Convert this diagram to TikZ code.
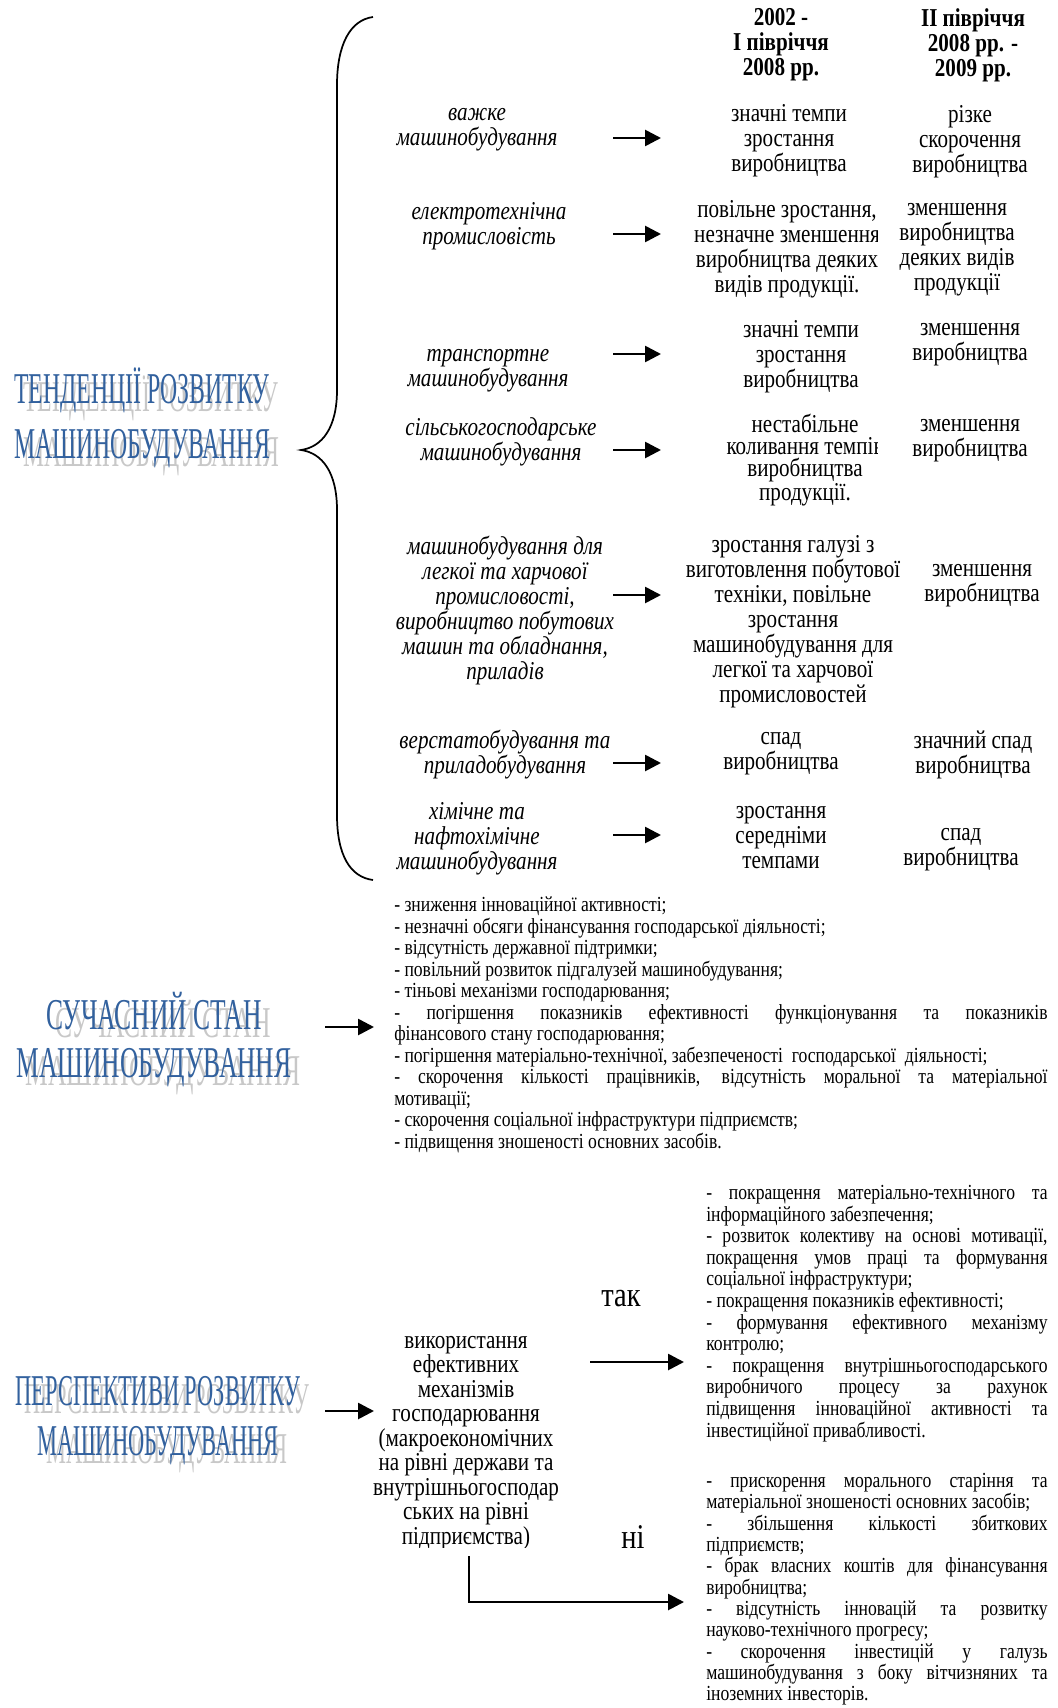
\documentclass[tikz,border=0pt]{standalone}
\usepackage{fontspec}
\setmainfont{Liberation Serif}[FakeStretch=0.82]
\newfontfamily\tendfont{Liberation Serif}[FakeStretch=0.54]
\newfontfamily\stanfont{Liberation Serif}[FakeStretch=0.58]
\newfontfamily\perspfont{Liberation Serif}[FakeStretch=0.51]
\usetikzlibrary{arrows.meta,positioning}
\definecolor{wordblue}{RGB}{50,97,158}
\definecolor{wordgray}{RGB}{200,200,200}

\begin{document}
\begin{tikzpicture}[x=0.75pt, y=-0.75pt,
  cell/.style={font=\fontsize{19.3}{18.75}\selectfont, align=center, inner sep=0pt},
  branch/.style={font=\fontsize{19.3}{18.75}\selectfont\itshape, align=center, inner sep=0pt},
  bullets/.style={font=\fontsize{16.1}{16.1}\selectfont, align=justify, inner sep=0pt, anchor=north west},
  wordart/.style={text=wordblue, align=center, inner sep=0pt},
  wordback/.style={text=wordgray, align=center, inner sep=0pt},
  arr/.style={line width=2pt, -{Triangle[length=12pt,width=12pt]}}]
\useasboundingbox (0,0) rectangle (1057,1708);
% brace
\draw[line width=1.3pt] (373,17) .. controls (350,20) and (337,45) .. (337,85)
  -- (337,390) .. controls (337,428) and (322,447) .. (301,450)
  .. controls (322,453) and (337,472) .. (337,510)
  -- (337,815) .. controls (337,855) and (350,877) .. (373,880);
% headings with shadows
\node[wordback, font=\fontsize{33}{41}\tendfont] (tendB) at (151,426) {ТЕНДЕНЦІЇ РОЗВИТКУ\\МАШИНОБУДУВАННЯ};
\node[wordart, font=\fontsize{33}{41}\tendfont] (tend) at (142,418) {ТЕНДЕНЦІЇ РОЗВИТКУ\\МАШИНОБУДУВАННЯ};
\node[wordback, font=\fontsize{33}{36}\stanfont] (stanB) at (163,1048) {СУЧАСНИЙ СТАН\\МАШИНОБУДУВАННЯ};
\node[wordart, font=\fontsize{33}{36}\stanfont] (stan) at (154,1040) {СУЧАСНИЙ СТАН\\МАШИНОБУДУВАННЯ};
\node[wordback, font=\fontsize{33}{37.5}\perspfont] (perspB) at (167,1429) {ПЕРСПЕКТИВИ РОЗВИТКУ\\МАШИНОБУДУВАННЯ};
\node[wordart, font=\fontsize{33}{37.5}\perspfont] (persp) at (158,1421) {ПЕРСПЕКТИВИ РОЗВИТКУ\\МАШИНОБУДУВАННЯ};
% column heads
\node[cell, font=\fontsize{19.3}{18.75}\selectfont\bfseries] (head1) at (781,45) {2002 -\\І півріччя\\2008 рр.};
\node[cell, font=\fontsize{19.3}{18.75}\selectfont\bfseries] (head2) at (973,45) {ІІ півріччя\\2008 рр. -\\2009 рр.};
% row 1
\node[branch] (b1) at (477,130) {важке\\машинобудування};
\node[cell] (p1) at (789,141) {значні темпи\\зростання\\виробництва};
\node[cell] (q1) at (970,142) {різке\\скорочення\\виробництва};
% row 2
\node[branch] (b2) at (489,226) {електротехнічна\\промисловість};
\begin{scope}
\clip (680,190) rectangle (877,305);
\node[cell] (p2) at (787,249) {повільне зростання,\\незначне зменшення\\виробництва деяких\\видів продукції.};
\end{scope}
\node[cell] (q2) at (957,250) {зменшення\\виробництва\\деяких видів\\продукції};
% row 3
\node[branch] (b3) at (488,371) {транспортне\\машинобудування};
\node[cell] (p3) at (801,357) {значні темпи\\зростання\\виробництва};
\node[cell] (q3) at (970,345) {зменшення\\виробництва};
% row 4
\node[branch] (b4) at (501,442) {сільськогосподарське\\машинобудування};
\begin{scope}
\clip (680,400) rectangle (877,515);
\node[cell, font=\fontsize{19.3}{16.5}\selectfont] (p4) at (805,460) {нестабільне\\коливання темпів\\виробництва\\продукції.};
\end{scope}
\node[cell] (q4) at (970,441) {зменшення\\виробництва};
% row 5
\node[branch] (b5) at (505,611) {машинобудування для\\легкої та харчової\\промисловості,\\виробництво побутових\\машин та обладнання,\\приладів};
\node[cell] (p5) at (793,622) {зростання галузі з\\виготовлення побутової\\техніки, повільне\\зростання\\машинобудування для\\легкої та харчової\\промисловостей};
\node[cell] (q5) at (982,586) {зменшення\\виробництва};
% row 6
\node[branch] (b6) at (505,755) {верстатобудування та\\приладобудування};
\node[cell] (p6) at (781,754) {спад\\виробництва};
\node[cell] (q6) at (973,755) {значний спад\\виробництва};
% row 7
\node[branch] (b7) at (477,839) {хімічне та\\нафтохімічне\\машинобудування};
\node[cell] (p7) at (781,838) {зростання\\середніми\\темпами};
\node[cell] (q7) at (961,850) {спад\\виробництва};
% row arrows
\coordinate (r1) at (613,138); \coordinate (r1e) at (661,138);
\coordinate (r2) at (613,234); \coordinate (r2e) at (661,234);
\coordinate (r3) at (613,354); \coordinate (r3e) at (661,354);
\coordinate (r4) at (613,450); \coordinate (r4e) at (661,450);
\coordinate (r5) at (613,595); \coordinate (r5e) at (661,595);
\coordinate (r6) at (613,763); \coordinate (r6e) at (661,763);
\coordinate (r7) at (613,835); \coordinate (r7e) at (661,835);
\draw[arr] (r1) -- (r1e);
\draw[arr] (r2) -- (r2e);
\draw[arr] (r3) -- (r3e);
\draw[arr] (r4) -- (r4e);
\draw[arr] (r5) -- (r5e);
\draw[arr] (r6) -- (r6e);
\draw[arr] (r7) -- (r7e);
% present state
\node[bullets, text width=490pt] (state) at (394,897) {- зниження інноваційної активності;\par
- незначні обсяги фінансування господарської діяльності;\par
- відсутність державної підтримки;\par
- повільний розвиток підгалузей машинобудування;\par
- тіньові механізми господарювання;\par
- погіршення показників ефективності функціонування та показників\linebreak фінансового стану господарювання;\par
- погіршення матеріально-технічної, забезпеченості \ господарської \ діяльності;\par
- скорочення кількості працівників, відсутність моральної та матеріальної\linebreak мотивації;\par
- скорочення соціальної інфраструктури підприємств;\par
- підвищення зношеності основних засобів.};
\coordinate (s2) at (325,1027); \coordinate (s2e) at (374,1027);
\draw[arr] (s2) -- (s2e);
% prospects
\coordinate (s3) at (325,1411); \coordinate (s3e) at (374,1411);
\draw[arr] (s3) -- (s3e);
\begin{scope}
\clip (360,1300) rectangle (580,1547);
\node[cell, font=\fontsize{19.3}{18.4}\selectfont] (use) at (466,1443) {використання\\ефективних\\механізмів\\господарювання\\(макроекономічних\\на рівні держави та\\внутрішньогосподар\\ських на рівні\\підприємства)};
\end{scope}
\node[inner sep=0pt, font=\fontsize{26}{26}\selectfont] (yes) at (621,1299) {так};
\node[inner sep=0pt, font=\fontsize{26}{26}\selectfont] (no) at (633,1537) {ні};
\coordinate (y0) at (590,1362); \coordinate (y1) at (684,1362);
\draw[arr] (y0) -- (y1);
\coordinate (n0) at (469,1556); \coordinate (n1) at (684,1602);
\draw[arr] (n0) |- (n1);
\node[bullets, text width=256pt, font=\fontsize{16.1}{16.2}\selectfont] (plus) at (706,1185) {- покращення матеріально-технічного та інформаційного забезпечення;\par
- розвиток колективу на основі мотивації,\linebreak покращення умов праці та формування\linebreak соціальної інфраструктури;\par
- покращення показників ефективності;\par
- формування ефективного механізму\linebreak контролю;\par
- покращення внутрішньогосподарського\linebreak виробничого процесу за рахунок\linebreak підвищення інноваційної активності та\linebreak інвестиційної привабливості.};
\node[bullets, text width=256pt, font=\fontsize{16.1}{16}\selectfont] (minus) at (706,1473) {- прискорення морального старіння та\linebreak матеріальної зношеності основних засобів;\par
- збільшення кількості збиткових\linebreak підприємств;\par
- брак власних коштів для фінансування\linebreak виробництва;\par
- відсутність інновацій та розвитку\linebreak науково-технічного прогресу;\par
- скорочення інвестицій у галузь\linebreak машинобудування з боку вітчизняних та\linebreak іноземних інвесторів.};
\end{tikzpicture}
\end{document}
